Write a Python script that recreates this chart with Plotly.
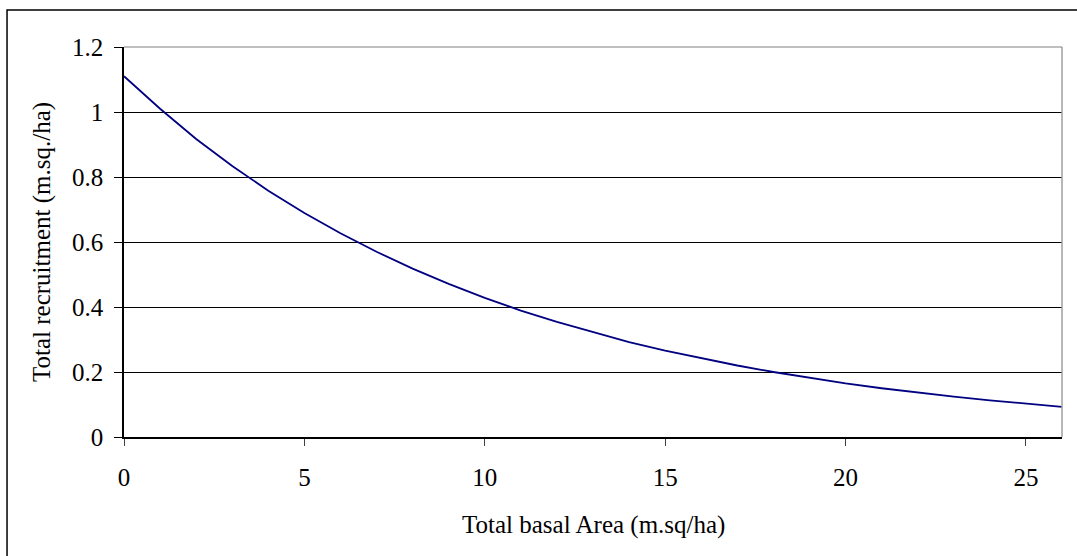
import plotly.graph_objects as go

basal_area = list(range(0, 27))
recruitment = [1.11, 1.01, 0.917, 0.834, 0.758, 0.689, 0.627, 0.570, 0.518, 0.471,
               0.428, 0.389, 0.354, 0.322, 0.292, 0.266, 0.242, 0.220, 0.200, 0.182,
               0.165, 0.150, 0.136, 0.124, 0.113, 0.102, 0.093]
y_ticks = [0, 0.2, 0.4, 0.6, 0.8, 1, 1.2]
y_tick_text = ["0", "0.2", "0.4", "0.6", "0.8", "1", "1.2"]
x_ticks = [0, 5, 10, 15, 20, 25]

FONT = "Liberation Serif, Times New Roman, serif"
FS = 25

fig = go.Figure()
fig.add_trace(go.Scatter(x=basal_area, y=recruitment, mode="lines",
                         line=dict(color="#000080", width=1.8),
                         showlegend=False, hoverinfo="skip"))

fig.update_layout(
    width=1077, height=556,
    margin=dict(l=124, r=15, t=47, b=119),
    paper_bgcolor="white", plot_bgcolor="white",
    font=dict(family=FONT, size=FS, color="black"),
    xaxis=dict(range=[0, 26], tickvals=x_ticks, ticks="outside", ticklen=7,
               tickcolor="#404040", showgrid=False, zeroline=False,
               showline=True, linecolor="black", linewidth=1.5,
               ticklabelstandoff=10, tickfont=dict(size=FS)),
    yaxis=dict(range=[0, 1.2], tickvals=y_ticks, ticktext=y_tick_text,
               ticks="outside", ticklen=8, tickcolor="black",
               showgrid=True, gridcolor="black", gridwidth=1, zeroline=False,
               showline=True, linecolor="black", linewidth=1.5,
               ticklabelstandoff=6, tickfont=dict(size=FS)),
    annotations=[
        dict(text="Total basal Area (m.sq/ha)", xref="paper", yref="paper",
             x=0.5, y=-0.2256, xanchor="center", yanchor="middle",
             showarrow=False, font=dict(family=FONT, size=FS)),
        dict(text="Total recruitment (m.sq./ha)", xref="paper", yref="paper",
             x=-0.0874, y=0.5, xanchor="center", yanchor="middle",
             textangle=-90, showarrow=False, font=dict(family=FONT, size=FS)),
    ],
    shapes=[
        dict(type="line", xref="paper", yref="paper", x0=1, x1=1, y0=0, y1=1,
             line=dict(color="#a0a0a0", width=1.5)),
        dict(type="line", xref="paper", yref="paper", x0=0, x1=1, y0=1, y1=1,
             line=dict(color="#808080", width=1.2)),
        dict(type="rect", xref="paper", yref="paper",
             x0=-0.1247, x1=1.02, y0=-0.32, y1=1.0949,
             line=dict(color="black", width=1.5)),
    ],
)

fig.write_html("out.html", config={"displayModeBar": False},
               post_script="document.body.style.margin='0px';")
